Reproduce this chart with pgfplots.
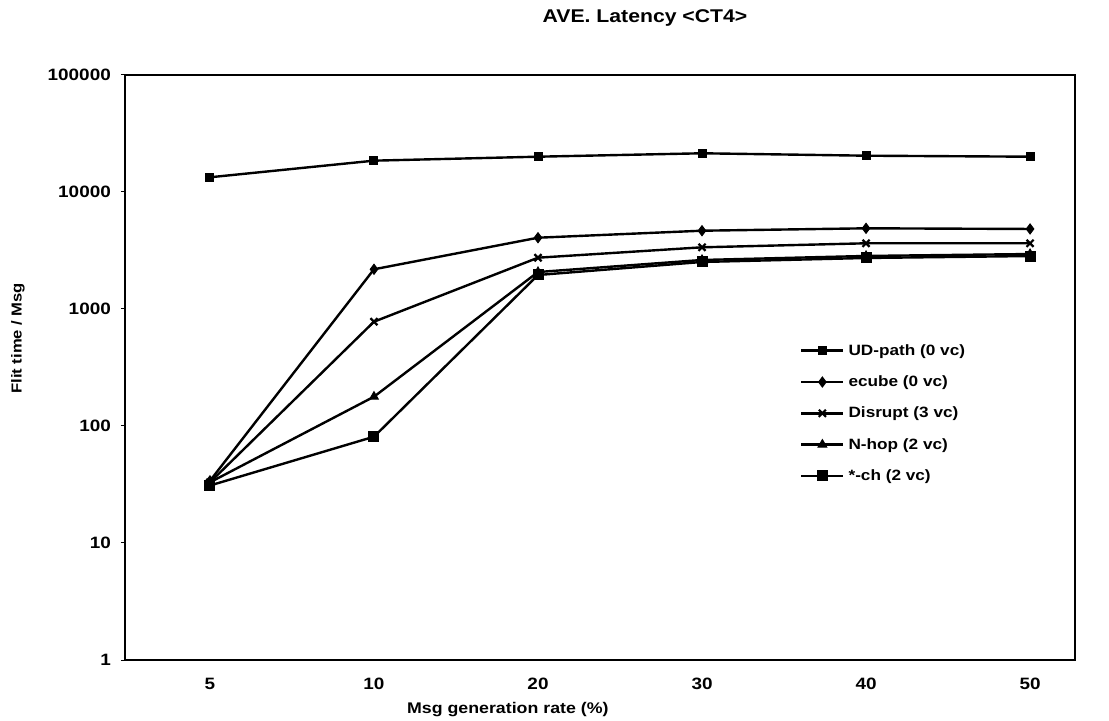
\documentclass[border=0pt]{standalone}
\usepackage{fontspec}
\setmainfont{Liberation Sans}[FakeStretch=1.15]
\usepackage{pgfplots}
\pgfplotsset{compat=1.18}
\begin{document}
\begin{tikzpicture}
\begin{axis}[
  name=ax, at={(0,0)}, anchor=south west,
  scale only axis, width=950bp, height=585bp,
  ymode=log, ymin=1, ymax=100000,
  xmin=-0.518, xmax=5.274,
  xtick={0,1,2,3,4,5}, xticklabels={5,10,20,30,40,50},
  ytick={1,10,100,1000,10000,100000},
  yticklabels={1,10,100,1000,10000,100000},
  yminorticks=false,
  tick align=outside, ytick pos=left, xtick pos=bottom,
  major tick length=4bp,
  xtick style={draw=none},
  ytick style={line width=1bp, black},
  /pgf/number format/assume math mode=true,
  axis line style={line width=2bp},
  tick label style={font=\bfseries\fontsize{16.5}{18}\selectfont},
  xticklabel style={anchor=north, inner sep=0pt, yshift=-14bp},
  yticklabel style={anchor=east, inner sep=0pt, xshift=-10bp},
  title={AVE. Latency <CT4>},
  title style={font=\bfseries\fontsize{18.5}{20}\selectfont, at={(0.5,1)}, anchor=base, yshift=47bp, xshift=45bp},
  xlabel={Msg generation rate (\%)},
  xlabel style={font=\bfseries\fontsize{15.5}{18}\selectfont, at={(axis description cs:0.403,-0.0855)}, anchor=center},
  ylabel={Flit time / Msg},
  ylabel style={font=\bfseries\fontsize{14.5}{17}\selectfont, at={(axis description cs:-0.1126,0.55)}, anchor=center, rotate=0},
  legend style={draw=none, fill=none, font=\bfseries\fontsize{15}{17}\selectfont,
    at={(axis description cs:0.7105,0.543)}, anchor=north west,
    row sep=15bp, inner sep=0pt, column sep=2bp},
  legend cell align=left,
  legend image code/.code={\draw[#1, mark repeat=2, mark phase=2] plot coordinates {(0bp,0bp) (21bp,0bp) (42bp,0bp)};},
]
\addplot[black, line width=2.4bp, mark=square*, mark size=4bp, mark options={solid, fill=black, line width=1bp}] coordinates {(0,13360) (1,18530) (2,20030) (3,21420) (4,20430) (5,20030)};
\addlegendentry{UD-path (0 vc)}
\addplot[black, line width=2.4bp, mark=diamond*, mark size=5bp, mark options={solid, fill=black, line width=1bp}] coordinates {(0,34) (1,2185) (2,4067) (3,4668) (4,4893) (5,4830)};
\addlegendentry{ecube (0 vc)}
\addplot[black, line width=2.4bp, mark=x, mark size=5bp, mark options={solid, line width=2.2bp}] coordinates {(0,33) (1,779) (2,2744) (3,3367) (4,3644) (5,3644)};
\addlegendentry{Disrupt (3 vc)}
\addplot[black, line width=2.4bp, mark=triangle*, mark size=5bp, mark options={solid, fill=black, line width=1bp}] coordinates {(0,33) (1,178) (2,2070) (3,2624) (4,2840) (5,2950)};
\addlegendentry{N-hop (2 vc)}
\addplot[black, line width=2.4bp, mark=square*, mark size=5bp, mark options={solid, fill=black, line width=1bp}] coordinates {(0,31) (1,81) (2,1953) (3,2523) (4,2729) (5,2836)};
\addlegendentry{*-ch (2 vc)}
\end{axis}
\path (ax.south west) ++(-125bp,-61bp) (ax.north east) ++(34bp,75bp);
\end{tikzpicture}
\end{document}
